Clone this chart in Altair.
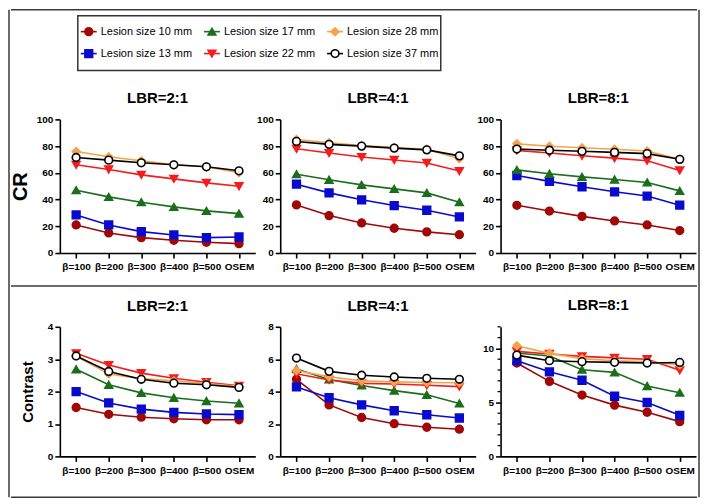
import altair as alt
import pandas as pd

categories = ["β=100", "β=200", "β=300", "β=400", "β=500", "OSEM"]
series = ["Lesion size 10 mm", "Lesion size 13 mm", "Lesion size 17 mm",
          "Lesion size 22 mm", "Lesion size 28 mm", "Lesion size 37 mm"]
stroke_colors = ["#A00808", "#0A0ACC", "#1B6E1B", "#F41C1C", "#F5A34B", "#000000"]
fill_colors = ["#A00808", "#0A0ACC", "#1B6E1B", "#F41C1C", "#F5A34B", "#FFFFFF"]
shapes = ["circle", "square", "triangle-up", "triangle-down", "diamond", "circle"]

# CR values (rows: lesion sizes 10,13,17,22,28,37 mm)
cr_lbr2 = [
    [21, 15, 11.5, 9.5, 8, 7],
    [28.5, 21, 16, 13.5, 11.5, 12],
    [47, 42, 38, 34.5, 31.5, 29.5],
    [66, 62.5, 58.5, 55.5, 52.5, 50],
    [76, 72, 69, 66, 64.5, 60],
    [71.5, 69.5, 67.5, 66, 64.5, 61.5],
]
cr_lbr4 = [
    [36, 28, 22.5, 18.5, 15.8, 13.7],
    [51.5, 45, 39.8, 35.5, 32, 27],
    [59, 54.8, 51, 48, 45, 38],
    [78, 74.8, 71.8, 69.6, 67.4, 61.3],
    [85, 82.5, 80.5, 79, 77.7, 70.6],
    [83.5, 81.3, 80, 78.5, 77.2, 72.7],
]
cr_lbr8 = [
    [35.7, 31.4, 27.4, 24, 21, 16.8],
    [58, 53.6, 49.6, 45.8, 42.6, 35.8],
    [62.2, 59.3, 57, 55, 52.8, 46.5],
    [76.8, 74.9, 72.8, 71, 69.1, 61.8],
    [81.7, 79.9, 78.8, 77.6, 76.3, 70.2],
    [77.8, 76.9, 76.1, 75.3, 74.4, 70.1],
]
# Contrast values
ct_lbr2 = [
    [1.51, 1.30, 1.21, 1.16, 1.13, 1.13],
    [2.0, 1.65, 1.46, 1.36, 1.31, 1.29],
    [2.69, 2.21, 1.96, 1.81, 1.71, 1.64],
    [3.18, 2.82, 2.57, 2.41, 2.29, 2.18],
    [3.10, 2.54, 2.40, 2.33, 2.25, 2.16],
    [3.10, 2.62, 2.38, 2.26, 2.21, 2.13],
]
ct_lbr4 = [
    [4.76, 3.18, 2.40, 2.02, 1.80, 1.68],
    [4.29, 3.62, 3.18, 2.82, 2.57, 2.37],
    [5.40, 4.75, 4.38, 4.06, 3.80, 3.27],
    [5.10, 4.72, 4.51, 4.47, 4.39, 4.31],
    [5.30, 4.92, 4.66, 4.60, 4.56, 4.55],
    [6.07, 5.25, 5.01, 4.90, 4.82, 4.76],
]
ct_lbr8 = [
    [8.65, 6.95, 5.68, 4.75, 4.09, 3.22],
    [8.86, 7.83, 7.05, 5.57, 4.99, 3.80],
    [9.57, 9.29, 8.03, 7.78, 6.52, 5.90],
    [9.72, 9.48, 9.26, 9.12, 9.00, 7.97],
    [10.25, 9.54, 9.05, 8.85, 8.75, 8.48],
    [9.38, 8.86, 8.77, 8.71, 8.65, 8.70],
]
# minor tick positions on the LBR=8:1 contrast axis
ct_lbr8_minor = [1, 2, 3, 4, 6, 7, 8, 9, 11, 12]

FONT = "Liberation Sans"
FRAME = "#3a3a3a"

stroke_scale = alt.Scale(domain=series, range=stroke_colors)
fill_scale = alt.Scale(domain=series, range=fill_colors)
shape_scale = alt.Scale(domain=series, range=shapes)


def long_df(values):
    rows = []
    for si, s in enumerate(series):
        for ci, c in enumerate(categories):
            rows.append({"series": s, "order": si, "cat": c, "value": values[si][ci]})
    return pd.DataFrame(rows)


def axis_common(**kw):
    return alt.Axis(domainColor="black", domainWidth=1.6, tickColor="black", tickWidth=1.6,
                    tickSize=5, labelColor="black", labelFont=FONT, labelFontWeight="bold",
                    labelFontSize=10, grid=False, **kw)


def panel(values, title, ytitle, ydom, yticks, w, h, tpad=8, tsize=18, toff=8, minor=None):
    df = long_df(values)
    yaxis_kw = dict(values=yticks, labelPadding=2)
    if ytitle:
        yaxis_kw.update(title=ytitle, titleFont=FONT, titleFontWeight="bold",
                        titleFontSize=tsize, titleColor="black", titlePadding=tpad)
    else:
        yaxis_kw.update(title=None)
    ydef = alt.Y("value:Q", scale=alt.Scale(domain=ydom, nice=False),
                 axis=axis_common(**yaxis_kw))
    base = alt.Chart(df).encode(
        x=alt.X("cat:N", sort=categories,
                scale=alt.Scale(type="point", padding=0.5),
                axis=axis_common(title=None, labelAngle=0, labelPadding=4)),
        y=ydef,
    )
    line = base.mark_line(strokeWidth=1.6).encode(
        color=alt.Color("series:N", scale=stroke_scale, legend=None),
        order=alt.Order("order:Q"),
    )
    pts = base.mark_point(filled=True, size=60, strokeWidth=1.6, opacity=1).encode(
        shape=alt.Shape("series:N", scale=shape_scale, legend=None),
        fill=alt.Fill("series:N", scale=fill_scale, legend=None),
        stroke=alt.Stroke("series:N", scale=stroke_scale, legend=None),
        order=alt.Order("order:Q"),
    )
    layers = [line, pts]
    if minor:
        mdf = pd.DataFrame({"value": minor})
        layers.insert(0, alt.Chart(mdf).mark_rule(color="black", strokeWidth=1.3).encode(
            y=ydef, x=alt.value(-3), x2=alt.value(0)))
    return alt.layer(*layers).properties(
        width=w, height=h,
        title=alt.TitleParams(title, font=FONT, fontSize=15, fontWeight="bold",
                              color="black", offset=toff, frame="group", anchor="middle"),
    )


one = pd.DataFrame({"k": [0]})


def spacer(w, h):
    return alt.Chart(one).mark_rule(strokeWidth=0, opacity=0).encode(
        x=alt.value(0), y=alt.value(0), y2=alt.value(1)).properties(width=w, height=h)


def hline(w, h, ypos):
    return alt.Chart(one).mark_rule(color=FRAME, strokeWidth=1.5).encode(
        x=alt.value(0), x2=alt.value(w), y=alt.value(ypos)).properties(width=w, height=h)


def vline(h):
    return alt.Chart(one).mark_rule(color=FRAME, strokeWidth=1.5).encode(
        x=alt.value(0), y=alt.value(0), y2=alt.value(h)).properties(width=1, height=h)


# custom legend box
leg_df = pd.DataFrame({
    "series": series,
    "col": [0, 0, 1, 1, 2, 2],
    "row": [0, 1, 0, 1, 0, 1],
})
lx = alt.X("col:Q", scale=alt.Scale(domain=[0, 2], range=[11, 258]), axis=None)
ly = alt.Y("row:Q", scale=alt.Scale(domain=[0, 1], range=[16, 38]), axis=None)
leg_base = alt.Chart(leg_df).encode(x=lx, y=ly)
leg_line = leg_base.mark_rule(strokeWidth=1.6, xOffset=-8, x2Offset=8).encode(
    x2="col:Q", color=alt.Color("series:N", scale=stroke_scale, legend=None))
leg_pts = leg_base.mark_point(filled=True, size=60, strokeWidth=1.6, opacity=1).encode(
    shape=alt.Shape("series:N", scale=shape_scale, legend=None),
    fill=alt.Fill("series:N", scale=fill_scale, legend=None),
    stroke=alt.Stroke("series:N", scale=stroke_scale, legend=None))
leg_txt = leg_base.mark_text(align="left", baseline="middle", dx=12, fontSize=11,
                             font=FONT, color="black").encode(text="series:N")
legend = alt.layer(leg_line, leg_pts, leg_txt).properties(
    width=364, height=55, view=alt.ViewBackground(stroke="#333333", strokeWidth=1.5))

W = 688
PW = 196
legend_row = alt.hconcat(spacer(67, 55), legend, spacing=0, bounds="flush")

cr_row = alt.hconcat(
    spacer(24, 134),
    panel(cr_lbr2, "LBR=2:1", "CR", [0, 100], [0, 20, 40, 60, 80, 100], PW, 134, tpad=6, tsize=20),
    panel(cr_lbr4, "LBR=4:1", None, [0, 100], [0, 20, 40, 60, 80, 100], PW, 134),
    panel(cr_lbr8, "LBR=8:1", None, [0, 100], [0, 20, 40, 60, 80, 100], PW, 134),
    spacing=25, bounds="flush",
)

ct_row = alt.hconcat(
    spacer(24, 130),
    panel(ct_lbr2, "LBR=2:1", "Contrast", [0, 4], [0, 1, 2, 3, 4], PW, 130, tpad=12, tsize=15),
    panel(ct_lbr4, "LBR=4:1", None, [0, 8], [0, 2, 4, 6, 8], PW, 130),
    panel(ct_lbr8, "LBR=8:1", None, [0, 12], [0, 5, 10], PW, 130, toff=13, minor=ct_lbr8_minor),
    spacing=25, bounds="flush",
)

main = alt.vconcat(
    hline(W, 5, 0),
    legend_row,
    spacer(W, 20),
    cr_row,
    hline(W, 26, 14),
    ct_row,
    hline(W, 22, 22),
    spacing=0,
)

H = 489
chart = alt.hconcat(vline(H), main, vline(H), spacing=0).properties(
    padding=0, background="white"
).configure_view(stroke="transparent", strokeWidth=0)

chart.save("out.html", embed_options={"renderer": "svg", "actions": False})
